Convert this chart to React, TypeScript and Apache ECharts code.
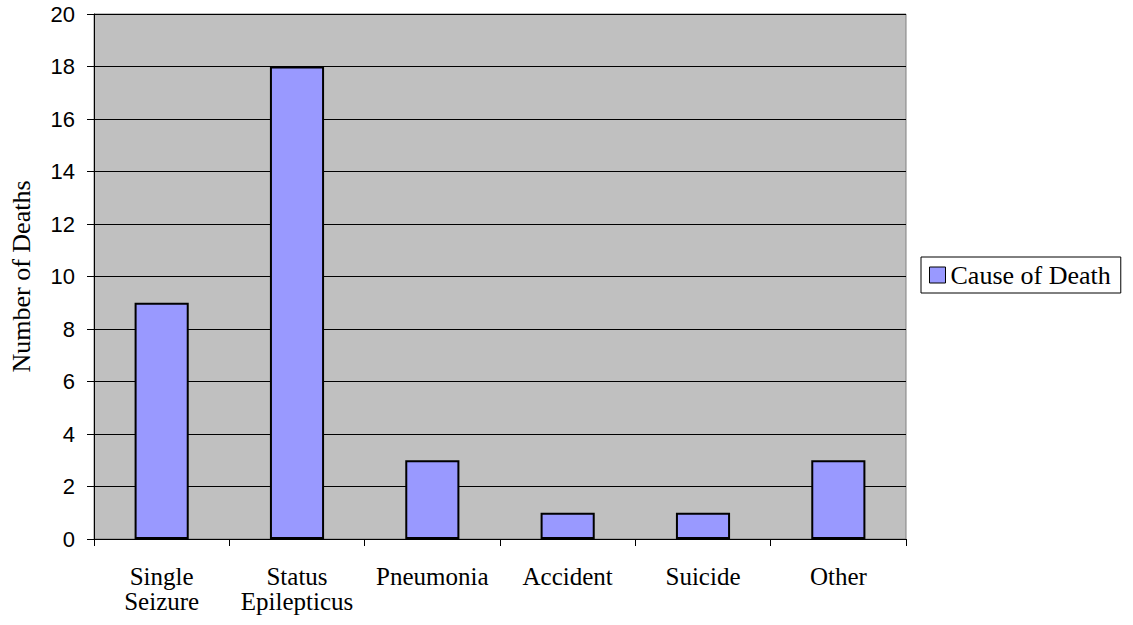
import React, { useEffect, useRef } from "react";
import * as echarts from "echarts";

const categories = ["Single\nSeizure", "Status\nEpilepticus", "Pneumonia", "Accident", "Suicide", "Other"];
const deaths = [9, 18, 3, 1, 1, 3];
const seriesName = "Cause of Death";
const yMin = 0;
const yMax = 20;
const yInterval = 2;

export default function App() {
  const ref = useRef<HTMLDivElement>(null);
  useEffect(() => {
    if (!ref.current) return;
    const chart = echarts.init(ref.current, null, { renderer: "svg" });
    chart.setOption({
      animation: false,
      backgroundColor: "#ffffff",
      grid: {
        left: 93,
        top: 14,
        right: 227,
        bottom: 86,
        show: true,
        backgroundColor: "#C0C0C0",
        borderColor: "#808080",
        borderWidth: 1,
        containLabel: false,
      },
      legend: {
        data: [seriesName],
        left: 921,
        top: 257,
        orient: "vertical",
        padding: [5, 10, 5, 8],
        borderColor: "#000000",
        borderWidth: 1,
        backgroundColor: "#ffffff",
        itemWidth: 16,
        itemHeight: 16,
        itemGap: 0,
        icon: "rect",
        itemStyle: { borderColor: "#000000", borderWidth: 1 },
        textStyle: { fontFamily: "Liberation Serif", fontSize: 26, lineHeight: 26, color: "#000000" },
      },
      xAxis: {
        type: "category",
        data: categories,
        boundaryGap: true,
        axisLine: { show: true, lineStyle: { color: "#000000", width: 1 } },
        axisTick: { show: true, length: 7, lineStyle: { color: "#000000" } },
        axisLabel: {
          fontFamily: "Liberation Serif",
          fontSize: 25,
          color: "#000000",
          lineHeight: 25,
          margin: 25,
          interval: 0,
        },
        splitLine: { show: false },
      },
      yAxis: {
        type: "value",
        min: yMin,
        max: yMax,
        interval: yInterval,
        name: "Number of Deaths",
        nameLocation: "middle",
        nameGap: 60,
        nameTextStyle: { fontFamily: "Liberation Serif", fontSize: 26, color: "#000000" },
        axisLine: { show: true, lineStyle: { color: "#000000", width: 1 } },
        axisTick: { show: true, length: 7, lineStyle: { color: "#000000" } },
        axisLabel: { fontFamily: "Liberation Sans", fontSize: 22, color: "#000000", margin: 19 },
        splitLine: { show: true, lineStyle: { color: "#000000", width: 1 } },
      },
      series: [
        {
          name: seriesName,
          type: "bar",
          data: deaths,
          barWidth: "40%",
          itemStyle: { color: "#9999FF", borderColor: "#000000", borderWidth: 2 },
        },
      ],
    });
    return () => chart.dispose();
  }, []);
  return <div ref={ref} style={{ position: "fixed", left: 0, top: 0, width: 1133, height: 625 }} />;
}
